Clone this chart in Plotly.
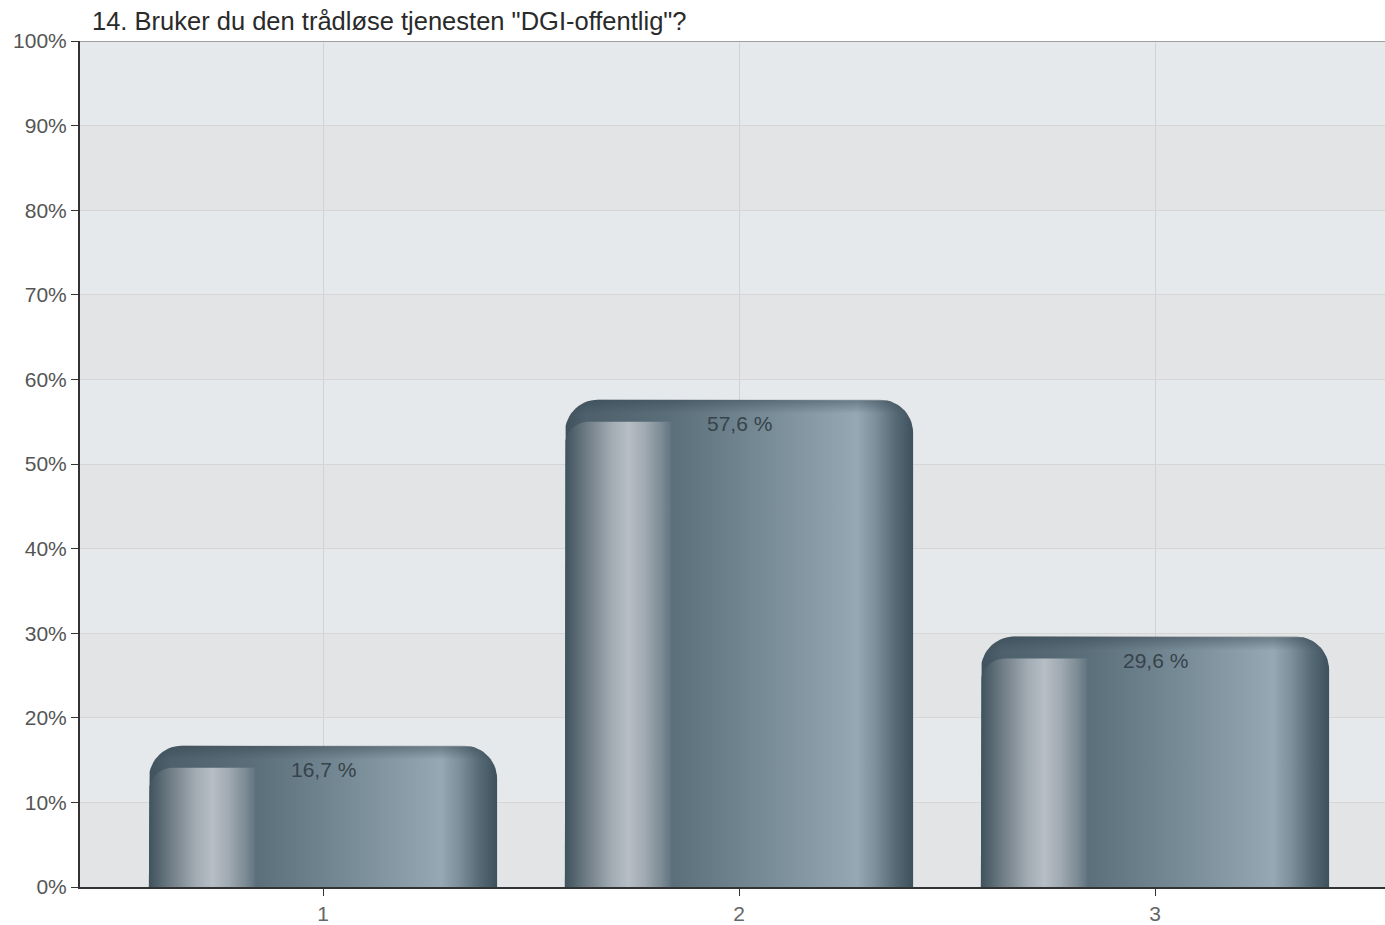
import numpy as np
import plotly.graph_objects as go

# ---- data ----
categories = [1, 2, 3]
values = [16.7, 57.6, 29.6]
labels = ["16,7 %", "57,6 %", "29,6 %"]
y_ticks = [0, 10, 20, 30, 40, 50, 60, 70, 80, 90, 100]
y_tick_text = [f"{v}%" for v in y_ticks]
title_text = '14. Bruker du den trådløse tjenesten "DGI-offentlig"?'

# ---- geometry (pixel-derived scales) ----
PX_X = 416.0          # px per category unit
PX_Y = 8.46           # px per percent
BAR_W = 0.837         # bar width in category units
R_PX = 33             # corner radius (px)
rx, ry = R_PX / PX_X, R_PX / PX_Y


def rounded_top(x0, x1, top, bottom, rxx, ryy, round_right=True, n=16):
    xs, ys = [x0], [bottom]
    t = np.linspace(np.pi, np.pi / 2, n)
    xs += list(x0 + rxx + rxx * np.cos(t))
    ys += list(top - ryy + ryy * np.sin(t))
    if round_right:
        t = np.linspace(np.pi / 2, 0, n)
        xs += list(x1 - rxx + rxx * np.cos(t))
        ys += list(top - ryy + ryy * np.sin(t))
    else:
        xs += [x1]
        ys += [top]
    xs += [x1, x0]
    ys += [bottom, bottom]
    return xs, ys


main_scale = [[0.0, "#3e515c"], [0.06, "#4d606b"], [0.305, "#5b6f7a"],
              [0.6, "#7a8e99"], [0.84, "#95a8b3"], [0.89, "#7d909b"],
              [0.95, "#566a76"], [1.0, "#3d505c"]]
panel_scale = [[0.0, "#3f525d"], [0.2, "#6f7c85"], [0.45, "#a3adb5"],
               [0.6, "#b7bec5"], [0.75, "#a0aab2"], [0.9, "#7f8d96"],
               [1.0, "#627580"]]

fig = go.Figure()

for c, v in zip(categories, values):
    x0, x1 = c - BAR_W / 2, c + BAR_W / 2
    xs, ys = rounded_top(x0, x1, v, 0, rx, ry)
    fig.add_trace(go.Scatter(
        x=xs, y=ys, fill="toself", mode="lines", line=dict(width=0),
        fillgradient=dict(type="horizontal", colorscale=main_scale, start=x0, stop=x1),
        hoverinfo="skip", showlegend=False))
    # highlight panel on the left
    p_top = v - 22 / PX_Y
    p_x1 = x0 + 0.305 * BAR_W
    pxs, pys = rounded_top(x0, p_x1, p_top, 0, 24 / PX_X, 24 / PX_Y, round_right=False)
    fig.add_trace(go.Scatter(
        x=pxs, y=pys, fill="toself", mode="lines", line=dict(width=0),
        fillgradient=dict(type="horizontal", colorscale=panel_scale, start=x0, stop=p_x1),
        hoverinfo="skip", showlegend=False))
    # dark rim at top
    rim_bottom = v - 14 / PX_Y
    ox, oy = rounded_top(x0, x1, v, rim_bottom, rx, ry)
    oy = [max(yy, rim_bottom) for yy in oy]
    fig.add_trace(go.Scatter(
        x=ox, y=oy, fill="toself", mode="lines", line=dict(width=0),
        fillgradient=dict(type="vertical",
                          colorscale=[[0, "rgba(50,66,76,0)"], [1, "rgba(50,66,76,0.45)"]],
                          start=rim_bottom, stop=v),
        hoverinfo="skip", showlegend=False))

for c, v, t in zip(categories, values, labels):
    fig.add_annotation(x=c, y=v, text=t, showarrow=False, yanchor="middle",
                       yshift=-24, font=dict(size=21, color="#37434a"))

# alternating background bands
for i in range(10):
    fig.add_shape(type="rect", xref="paper", x0=0, x1=1, yref="y",
                  y0=i * 10, y1=(i + 1) * 10, layer="below", line=dict(width=0),
                  fillcolor="#e3e4e6" if i % 2 == 0 else "#e6e9ec")

# top border line
fig.add_shape(type="line", xref="paper", x0=0, x1=1, yref="y", y0=100, y1=100,
              line=dict(color="#a0a0a0", width=2))

W, H = 1385, 925
fig.update_layout(
    width=W, height=H,
    margin=dict(l=80, r=0, t=41, b=925 - 887),
    paper_bgcolor="white", plot_bgcolor="rgba(0,0,0,0)",
    font=dict(family="Liberation Sans, Arial, sans-serif", color="#555555"),
    title=dict(text=title_text, x=92 / W, xanchor="left", y=1 - 21 / H,
               yanchor="middle", font=dict(size=25.5, color="#2a2a2a")),
    showlegend=False,
)
fig.update_xaxes(range=[1 - 243 / PX_X, 3 + 230 / PX_X], tickvals=categories,
                 ticktext=[str(c) for c in categories], showgrid=True,
                 gridcolor="#d2d2d2", gridwidth=1, zeroline=False,
                 showline=True, linecolor="#333333", linewidth=2,
                 ticks="outside", ticklen=7, tickcolor="#333333",
                 tickfont=dict(size=21, color="#666666"), layer="above traces")
fig.update_yaxes(range=[0, 100], tickvals=y_ticks, ticktext=y_tick_text,
                 showgrid=True, gridcolor="#d6d6d6", gridwidth=1, zeroline=False,
                 showline=True, linecolor="#333333", linewidth=2,
                 ticks="outside", ticklen=7, tickcolor="#333333",
                 tickfont=dict(size=21, color="#555555"))

fig.write_html("out.html", config={"displayModeBar": False},
               post_script="document.body.style.margin='0';document.body.style.overflow='hidden';")
